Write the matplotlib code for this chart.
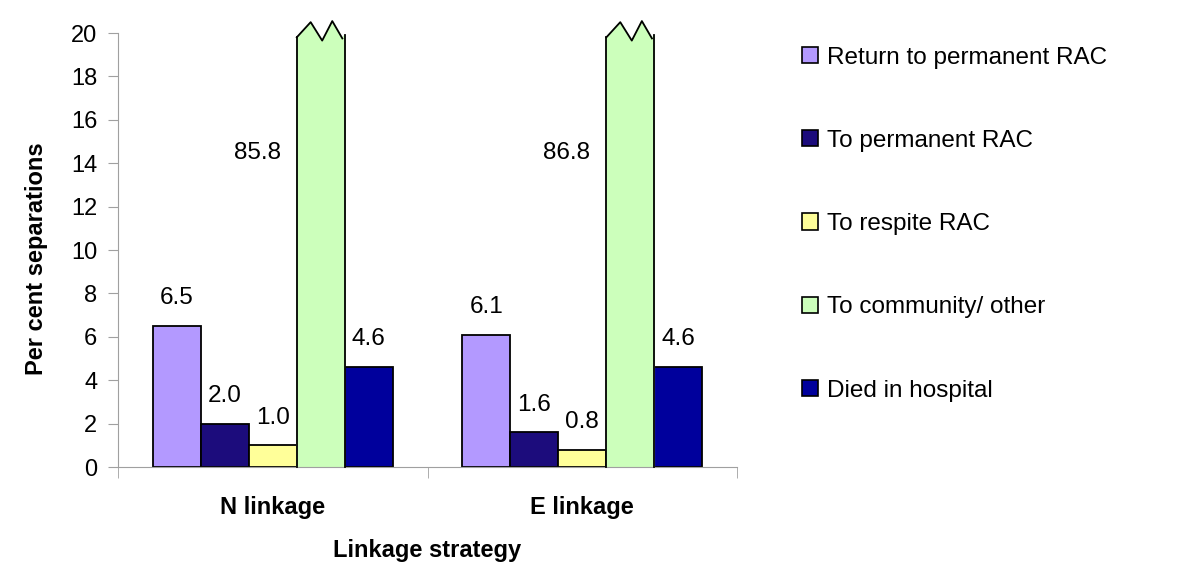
import numpy as np
import matplotlib
matplotlib.use("Agg")
import matplotlib.pyplot as plt
from matplotlib.patches import Patch

# ── data ───────────────────────────────────────────────────────────────────────
CATEGORIES = ["N linkage", "E linkage"]
SERIES = ["Return to permanent RAC", "To permanent RAC", "To respite RAC",
          "To community/ other", "Died in hospital"]
VALUES = {
    "Return to permanent RAC": [6.5, 6.1],
    "To permanent RAC":        [2.0, 1.6],
    "To respite RAC":          [1.0, 0.8],
    "To community/ other":     [85.8, 86.8],
    "Died in hospital":        [4.6, 4.6],
}
COLORS = ["#B399FF", "#1C0C7C", "#FFFF99", "#CCFFBB", "#00009C"]
Y_TICKS = [0, 2, 4, 6, 8, 10, 12, 14, 16, 18, 20]
Y_MAX = 20

plt.rcParams["font.family"] = ["Liberation Sans", "DejaVu Sans"]

fig = plt.figure(figsize=(12, 5.76), dpi=100)
ax = fig.add_axes([0.0983, 0.1892, 0.5160, 0.7535])

x = np.arange(len(CATEGORIES))
width = 0.155
n = len(SERIES)

for i, (name, color) in enumerate(zip(SERIES, COLORS)):
    vals = VALUES[name]
    pos = x + (i - (n - 1) / 2) * width
    for xp, v in zip(pos, vals):
        if v <= Y_MAX:
            ax.bar(xp, v, width, color=color, edgecolor="black", linewidth=1.3)
            ax.annotate(f"{v:.1f}", (xp, v), xytext=(0, 20),
                        textcoords="offset points", ha="center", va="center",
                        fontsize=17.5)
        else:
            # broken bar: fill up to the axis top with a zigzag cap
            x0, x1 = xp - width / 2, xp + width / 2
            fr = np.array([0.0, 0.29, 0.53, 0.74, 0.95, 1.0])
            zy = Y_MAX + np.array([-0.2, 0.5, -0.35, 0.55, -0.25, -0.1])
            px = np.concatenate([[x0], x0 + fr * width, [x1]])
            py = np.concatenate([[0], zy, [0]])
            ax.fill(px, py, color=color, clip_on=False, zorder=2)
            ax.plot([x0, x0], [0, zy[0]], color="black", lw=1.3,
                    clip_on=False, zorder=3)
            ax.plot([x1, x1], [0, zy[-1]], color="black", lw=1.3,
                    clip_on=False, zorder=3)
            ax.plot(x0 + fr[:-1] * width, zy[:-1], color="black", lw=1.3,
                    clip_on=False, zorder=3)
            ax.text(xp - 0.205, 14.45, f"{v:.1f}", ha="center", va="center",
                    fontsize=17.5)

ax.set_ylim(0, Y_MAX)
ax.set_xlim(-0.5, len(CATEGORIES) - 0.5)
ax.set_yticks(Y_TICKS)
ax.tick_params(axis="y", labelsize=17, length=7, color="#A0A0A0",
               direction="out", pad=8)
ax.set_xticks(x)
ax.set_xticklabels(CATEGORIES, fontsize=17, fontweight="bold")
ax.tick_params(axis="x", length=0, pad=21)
ax.set_xticks(np.arange(-0.5, len(CATEGORIES)), minor=True)
ax.tick_params(axis="x", which="minor", length=8, color="#A0A0A0",
               direction="out")

for s in ["top", "right"]:
    ax.spines[s].set_visible(False)
for s in ["left", "bottom"]:
    ax.spines[s].set_color("#A0A0A0")

ax.set_ylabel("Per cent separations", fontsize=17, fontweight="bold")
ax.yaxis.set_label_coords(-0.113, 0.48)
ax.set_xlabel("Linkage strategy", fontsize=17, fontweight="bold",
              labelpad=14)

handles = [Patch(facecolor=c, edgecolor="black", linewidth=1.2)
           for c in COLORS]
fig.legend(handles, SERIES, loc="upper left", bbox_to_anchor=(0.650, 0.957),
           frameon=False, fontsize=17.5, labelspacing=2.52,
           handlelength=0.65, handleheight=0.65, handletextpad=0.37)

fig.savefig("out.png", dpi=100)
